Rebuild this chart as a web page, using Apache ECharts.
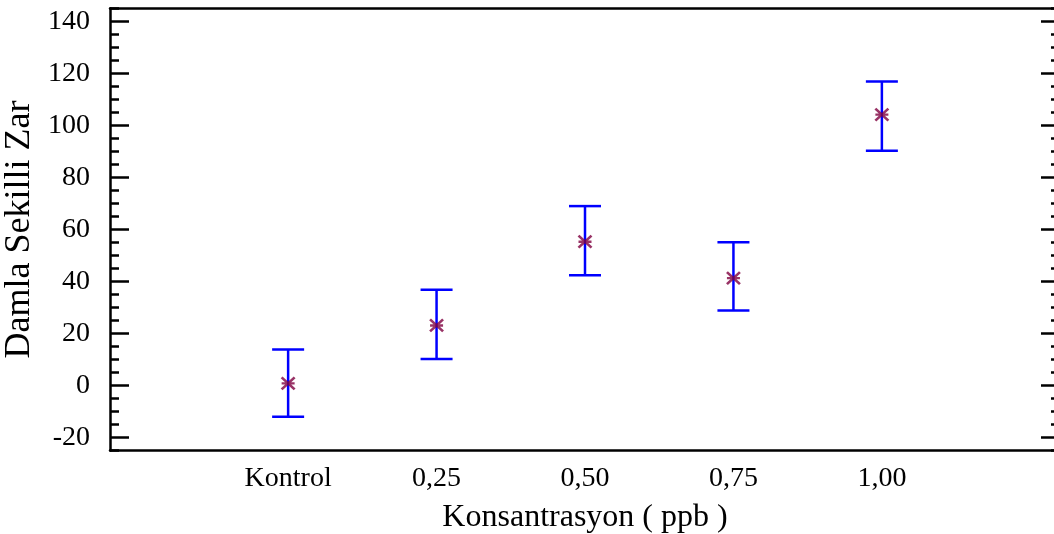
<!DOCTYPE html>
<html>
<head>
<meta charset="utf-8">
<script src="https://cdn.jsdelivr.net/npm/echarts@6/dist/echarts.min.js"></script>
<style>
  html, body { margin: 0; padding: 0; background: #fff; }
  #chart { width: 1054px; height: 534px; }
</style>
</head>
<body>
<div id="chart"></div>
<script>
// data
const categories = ['Kontrol', '0,25', '0,50', '0,75', '1,00'];
const concentrations = [0, 0.25, 0.5, 0.75, 1.0];
const means = [0.8, 23.1, 55.3, 41.3, 104.2];
const lower = [-12.0, 10.2, 42.4, 28.8, 90.3];
const upper = [13.8, 36.8, 69.0, 55.1, 116.9];
const yTicks = [-20, 0, 20, 40, 60, 80, 100, 120, 140];

const font = 'Liberation Serif';
const yMin = -25, yMax = 145;

function yAxisBase(pos) {
  return {
    type: 'value', position: pos, min: yMin, max: yMax,
    splitLine: {show: false}
  };
}

let option = {
  animation: false,
  backgroundColor: '#fff',
  grid: {left: 110, top: 8.5, width: 950, height: 442, outerBoundsMode: 'none', containLabel: false},
  xAxis: [
    {
      type: 'value', position: 'bottom', min: -0.3, max: 1.3,
      splitLine: {show: false},
      axisLine: {show: true, onZero: false, lineStyle: {color: '#000', width: 2.5}},
      axisTick: {show: false},
      axisLabel: {
        customValues: concentrations,
        color: '#000', fontFamily: font, fontSize: 28, margin: 14,
        formatter: function (value) {
          let i = concentrations.indexOf(value);
          return i >= 0 ? categories[i] : '';
        }
      },
      name: 'Konsantrasyon ( ppb )',
      nameLocation: 'middle',
      nameGap: 51,
      nameTextStyle: {color: '#000', fontFamily: font, fontSize: 32}
    },
    {
      type: 'value', position: 'top', min: -0.3, max: 1.3,
      splitLine: {show: false},
      axisLine: {show: true, onZero: false, lineStyle: {color: '#000', width: 2.5}},
      axisTick: {show: false},
      axisLabel: {show: false}
    }
  ],
  yAxis: [
    Object.assign(yAxisBase('left'), {
      axisLine: {show: true, onZero: false, lineStyle: {color: '#000', width: 2.5}},
      axisTick: {show: true, inside: true, length: 19, customValues: yTicks, lineStyle: {color: '#000', width: 2.5}},
      axisLabel: {customValues: yTicks, color: '#000', fontFamily: font, fontSize: 28, margin: 20},
      name: 'Damla Sekilli Zar',
      nameLocation: 'middle',
      nameGap: 70,
      nameTextStyle: {color: '#000', fontFamily: font, fontSize: 36}
    }),
    Object.assign(yAxisBase('left'), {
      interval: 5,
      axisLine: {show: false, onZero: false},
      axisTick: {show: true, inside: true, length: 9, lineStyle: {color: '#000', width: 2.5}},
      axisLabel: {show: false}
    }),
    Object.assign(yAxisBase('right'), {
      axisLine: {show: true, onZero: false, lineStyle: {color: '#000', width: 2.5}},
      axisTick: {show: true, inside: true, length: 19, customValues: yTicks, lineStyle: {color: '#000', width: 2.5}},
      axisLabel: {show: false}
    }),
    Object.assign(yAxisBase('right'), {
      interval: 5,
      axisLine: {show: false, onZero: false},
      axisTick: {show: true, inside: true, length: 9, lineStyle: {color: '#000', width: 2.5}},
      axisLabel: {show: false}
    })
  ],
  series: [
    {
      type: 'custom',
      xAxisIndex: 0,
      yAxisIndex: 0,
      data: concentrations.map((c, i) => [c, lower[i], upper[i]]),
      renderItem: function (params, api) {
        let lo = api.coord([api.value(0), api.value(1)]);
        let hi = api.coord([api.value(0), api.value(2)]);
        let half = 16;
        let style = {stroke: '#0000ff', lineWidth: 2.5};
        return {
          type: 'group',
          children: [
            {type: 'line', shape: {x1: lo[0], y1: lo[1], x2: hi[0], y2: hi[1]}, style: style},
            {type: 'line', shape: {x1: lo[0] - half, y1: lo[1], x2: lo[0] + half, y2: lo[1]}, style: style},
            {type: 'line', shape: {x1: hi[0] - half, y1: hi[1], x2: hi[0] + half, y2: hi[1]}, style: style}
          ]
        };
      },
      z: 2
    },
    {
      type: 'scatter',
      xAxisIndex: 0,
      yAxisIndex: 0,
      data: concentrations.map((c, i) => [c, means[i]]),
      symbol: 'path://M-6,-3.5L6,3.5M-6,3.5L6,-3.5M-6,0L6,0',
      symbolSize: [13, 12],
      itemStyle: {color: 'none', borderColor: '#800040', borderWidth: 2.5},
      z: 3
    }
  ]
};

let chart = echarts.init(document.getElementById('chart'), null, {width: 1054, height: 534});
chart.setOption(option);
</script>
</body>
</html>
